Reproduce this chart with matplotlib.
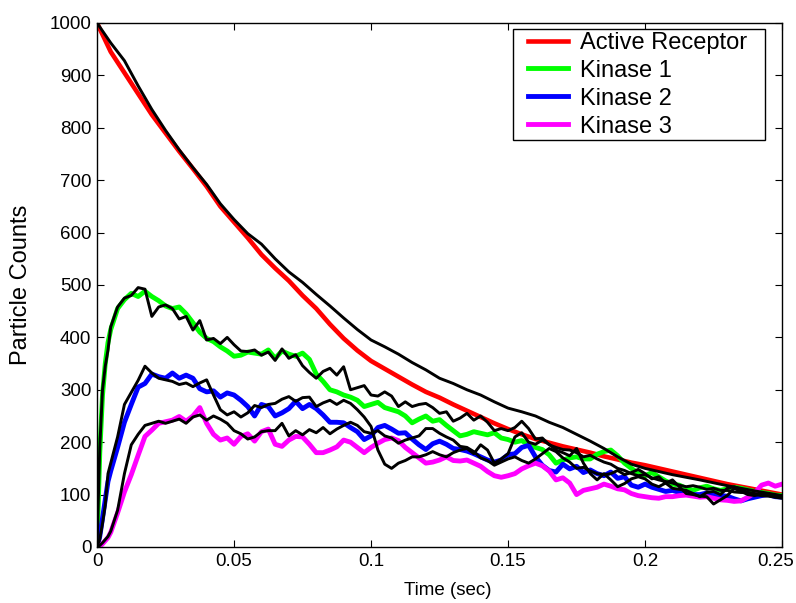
import matplotlib
matplotlib.use("Agg")
import matplotlib.pyplot as plt
import matplotlib.transforms as mtransforms
from matplotlib.legend_handler import HandlerLine2D
from matplotlib.lines import Line2D
import numpy as np

plt.rcParams['font.family'] = ['Liberation Sans', 'DejaVu Sans']

# time grids (sec)
t_smooth = [0, 0.005, 0.01, 0.015, 0.02, 0.025, 0.03, 0.035, 0.04, 0.045, 0.05, 0.055,
            0.06, 0.065, 0.07, 0.075, 0.08, 0.085, 0.09, 0.095, 0.1, 0.105, 0.11, 0.115,
            0.12, 0.125, 0.13, 0.135, 0.14, 0.145, 0.15, 0.155, 0.16, 0.165, 0.17, 0.175,
            0.18, 0.185, 0.19, 0.195, 0.2, 0.21, 0.22, 0.23, 0.24, 0.25]
t_noisy = np.concatenate([[0, 0.001, 0.002, 0.003, 0.004],
                          np.arange(0.005, 0.25001, 0.0025)])

receptor = [1000, 945, 905, 865, 825, 790, 755, 722, 688, 650, 620, 590,
            558, 532, 508, 480, 455, 425, 398, 375, 355, 340, 325, 310,
            296, 285, 272, 260, 248, 236, 225, 215, 206, 199, 192, 186,
            180, 173, 167, 161, 156, 144, 132, 120, 110, 100]
receptor_det = [1000, 962, 928, 880, 835, 795, 758, 724, 692, 655, 625, 598,
                578, 550, 525, 505, 482, 460, 437, 415, 395, 382, 368, 352,
                338, 322, 312, 300, 290, 277, 265, 258, 250, 238, 228, 215,
                202, 188, 172, 158, 150, 138, 128, 117, 107, 98]

kinase1 = [0, 180, 290, 350, 390,
           415, 455, 472, 484, 478, 488, 478, 470, 460, 455, 458, 445, 428, 410, 398, 392,
           382, 374, 364, 366, 372, 370, 368, 376, 360, 374, 368, 364, 370, 358, 330, 316,
           300, 296, 290, 286, 280, 268, 272, 276, 266, 262, 258, 250, 237, 244, 250, 240,
           243, 232, 222, 212, 215, 220, 217, 214, 218, 208, 205, 200, 203, 195, 190, 186,
           176, 160, 166, 170, 172, 168, 168, 177, 182, 185, 174, 160, 150, 141, 136, 142,
           134, 126, 120, 118, 112, 108, 113, 116, 111, 108, 111, 114, 112, 109, 106, 104,
           102, 99, 98]
kinase2 = [0, 20, 55, 90, 125,
           145, 190, 238, 272, 305, 312, 330, 325, 322, 332, 322, 328, 322, 302, 296, 298,
           286, 294, 290, 280, 268, 250, 272, 268, 250, 256, 264, 278, 264, 272, 264, 252,
           238, 238, 237, 228, 220, 205, 212, 228, 232, 225, 217, 218, 206, 195, 186, 197,
           202, 196, 188, 186, 183, 178, 172, 166, 162, 166, 176, 178, 190, 194, 172, 156,
           146, 143, 158, 149, 154, 142, 147, 140, 136, 143, 131, 134, 118, 114, 120, 114,
           110, 106, 108, 104, 104, 100, 100, 103, 101, 98, 97, 92, 88, 92, 95, 98,
           100, 96, 95]
kinase3 = [0, 2, 6, 12, 18,
           28, 65, 105, 138, 175, 211, 223, 236, 239, 242, 249, 240, 250, 266, 236, 215,
           204, 208, 196, 211, 216, 202, 220, 225, 196, 192, 204, 211, 210, 196, 180, 180,
           185, 191, 204, 200, 190, 180, 190, 198, 205, 208, 203, 190, 180, 170, 160, 162,
           166, 172, 165, 164, 166, 160, 154, 144, 136, 133, 136, 140, 149, 155, 160, 155,
           145, 128, 132, 122, 100, 108, 111, 114, 120, 116, 111, 109, 102, 98, 96, 94,
           93, 96, 96, 98, 99, 97, 95, 96, 93, 90, 89, 87, 88, 95, 103, 118,
           122, 116, 120]

kinase1_det = [0, 190, 300, 345, 376,
               420, 458, 475, 480, 495, 492, 440, 458, 462, 455, 435, 440, 414, 432, 395, 398,
               388, 400, 386, 374, 373, 376, 366, 372, 356, 378, 360, 367, 346, 333, 322, 335,
               341, 328, 344, 300, 304, 308, 290, 288, 296, 288, 268, 277, 268, 272, 274, 266,
               255, 258, 240, 246, 255, 242, 250, 238, 222, 226, 222, 228, 240, 226, 206, 208,
               195, 190, 186, 185, 180, 172, 175, 168, 162, 158, 150, 146, 140, 136, 138, 132,
               128, 125, 122, 118, 115, 117, 114, 110, 112, 108, 108, 105, 104, 104, 102, 100,
               99, 97, 96]
kinase2_det = [0, 15, 45, 80, 140,
               160, 210, 272, 295, 318, 345, 332, 322, 319, 316, 310, 313, 306, 313, 319, 290,
               262, 252, 258, 248, 256, 270, 266, 272, 274, 282, 287, 278, 285, 286, 268, 275,
               280, 272, 280, 274, 262, 248, 230, 185, 158, 150, 160, 165, 172, 172, 176, 182,
               176, 172, 180, 185, 188, 178, 195, 185, 160, 168, 178, 210, 218, 200, 196, 204,
               196, 185, 180, 174, 188, 160, 140, 128, 140, 128, 115, 121, 130, 134, 130, 120,
               115, 122, 128, 115, 102, 100, 97, 96, 82, 90, 98, 112, 106, 100, 98, 102,
               99, 96, 95]
kinase3_det = [0, 3, 8, 14, 20,
               30, 70, 140, 195, 215, 232, 236, 240, 236, 240, 244, 236, 248, 252, 242, 250,
               244, 236, 222, 216, 206, 210, 220, 222, 222, 236, 212, 222, 214, 224, 218, 228,
               216, 225, 232, 238, 232, 220, 217, 222, 212, 208, 198, 204, 208, 212, 226, 226,
               217, 210, 204, 192, 190, 182, 170, 165, 156, 162, 168, 172, 165, 160, 168, 178,
               188, 182, 170, 162, 150, 152, 145, 140, 138, 140, 146, 138, 142, 148, 140, 130,
               134, 122, 112, 110, 108, 102, 96, 104, 106, 100, 112, 115, 110, 104, 100, 98,
               97, 95, 93]

xticks = [0, 0.05, 0.1, 0.15, 0.2, 0.25]
xticklabels = ['0', '0.05', '0.1', '0.15', '0.2', '0.25']
yticks = list(range(0, 1001, 100))

fig = plt.figure(figsize=(7.96, 6.03), dpi=100)
ax = fig.add_axes([0.1219, 0.0929, 0.8606, 0.8690])

ax.plot(t_smooth, receptor, color='#ff0000', lw=3.3, label='Active Receptor')
ax.plot(t_noisy, kinase1, color='#00ff00', lw=3.5, label='Kinase 1')
ax.plot(t_noisy, kinase2, color='#0000ff', lw=3.5, label='Kinase 2')
ax.plot(t_noisy, kinase3, color='#ff00ff', lw=3.5, label='Kinase 3')

# deterministic / reference curves in black
ax.plot(t_smooth, receptor_det, color='k', lw=2.1)
ax.plot(t_noisy, kinase1_det, color='k', lw=2.1)
ax.plot(t_noisy, kinase2_det, color='k', lw=2.1)
ax.plot(t_noisy, kinase3_det, color='k', lw=2.1)

ax.set_xlim(0, 0.25)
ax.set_ylim(0, 1000)
ax.set_xticks(xticks)
ax.set_xticklabels(xticklabels)
ax.set_yticks(yticks)
ax.tick_params(direction='in', length=5, width=0.8, labelsize=13.5,
               top=True, right=True, pad=4)
for s in ax.spines.values():
    s.set_linewidth(1)

# last x label sits right at the figure edge
lab = ax.get_xticklabels()[-1]
lab.set_transform(lab.get_transform() + mtransforms.ScaledTranslation(-6 / 100, 0, fig.dpi_scale_trans))

ax.set_xlabel('Time (sec)', fontsize=13.5)
ax.xaxis.set_label_coords(0.5124, -0.066)
ax.set_ylabel('Particle Counts', fontsize=17, labelpad=13)

leg = ax.legend(loc='upper left', bbox_to_anchor=(0.6073, 0.70, 0.3679, 0.2885),
                mode='expand', borderaxespad=0,
                prop={'size': 17}, fancybox=False, framealpha=1,
                edgecolor='k', handlelength=2.71, handletextpad=0.02,
                labelspacing=0.25, borderpad=0.12,
                handler_map={Line2D: HandlerLine2D(numpoints=2, marker_pad=0.5)})
leg.get_frame().set_linewidth(1)

fig.savefig('out.png', dpi=100)
